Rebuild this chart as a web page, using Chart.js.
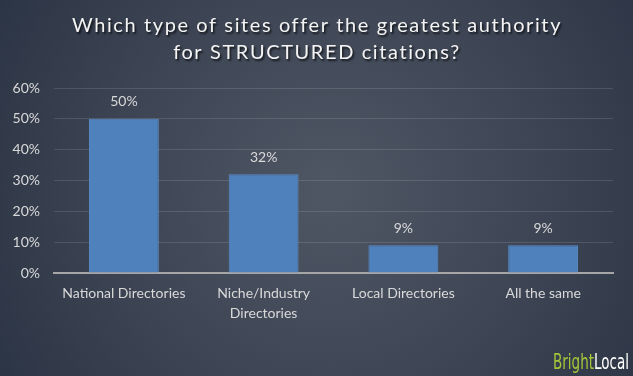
<!DOCTYPE html>
<html>
<head>
<meta charset="utf-8">
<script src="https://cdn.jsdelivr.net/npm/chart.js@4/dist/chart.umd.min.js"></script>
<style>
html,body{margin:0;padding:0;background:#2e3745;}
#wrap{width:633px;height:376px;position:relative;}
</style>
</head>
<body>
<div id="wrap"><canvas id="c" width="633" height="376"></canvas></div>
<script>
const categories = ["National Directories", ["Niche/Industry", "Directories"], "Local Directories", "All the same"];
const values = [50, 32, 9, 9];
const yTicks = [0, 10, 20, 30, 40, 50, 60];
const titleLines = ["Which type of sites offer the greatest authority", "for STRUCTURED citations?"];

const FONT = "Lato, 'Open Sans', sans-serif";

const bgPlugin = {
  id: 'bg',
  beforeDraw(chart) {
    const ctx = chart.ctx, w = chart.width, h = chart.height;
    ctx.save();
    const g = ctx.createRadialGradient(330, 190, 10, 330, 190, 420);
    g.addColorStop(0, '#4e5664');
    g.addColorStop(0.5, '#3d4554');
    g.addColorStop(1, '#283141');
    ctx.fillStyle = g;
    ctx.fillRect(0, 0, w, h);
    ctx.restore();
  },
  afterDraw(chart) {
    const ctx = chart.ctx;
    ctx.save();
    // title
    ctx.font = "20px " + FONT;
    ctx.letterSpacing = '1.6px';
    ctx.textAlign = 'center';
    ctx.textBaseline = 'middle';
    ctx.shadowColor = 'rgba(0,0,0,0.7)';
    ctx.shadowOffsetX = 1.5;
    ctx.shadowOffsetY = 1.5;
    ctx.shadowBlur = 2;
    ctx.fillStyle = '#f4f4f4';
    ctx.fillText(titleLines[0], 317, 26);
    ctx.fillText(titleLines[1], 317, 53);
    ctx.restore();
    // logo
    ctx.save();
    ctx.font = "22px 'DejaVu Sans Condensed', 'Liberation Sans', sans-serif";
    ctx.textBaseline = 'alphabetic';
    ctx.textAlign = 'left';
    const b = 'Bright', l = 'Local';
    const wb = ctx.measureText(b).width, wl = ctx.measureText(l).width;
    const targetW = 76;
    const sx = targetW / (wb + wl);
    ctx.translate(553, 369);
    ctx.scale(sx, 1);
    ctx.fillStyle = '#a4c639';
    ctx.fillText(b, 0, 0);
    ctx.fillStyle = '#ffffff';
    ctx.fillText(l, wb, 0);
    ctx.restore();
  },
  afterDatasetsDraw(chart) {
    const ctx = chart.ctx;
    const meta = chart.getDatasetMeta(0);
    ctx.save();
    ctx.font = "14px " + FONT;
    ctx.fillStyle = '#d9d9d9';
    ctx.textAlign = 'center';
    ctx.textBaseline = 'middle';
    meta.data.forEach((bar, i) => {
      ctx.fillText(values[i] + '%', bar.x, bar.y - 17);
    });
    ctx.restore();
  }
};

new Chart(document.getElementById('c'), {
  type: 'bar',
  data: {
    labels: categories,
    datasets: [{
      data: values,
      backgroundColor: '#4f81bd',
      borderColor: '#5a8cc8',
      borderWidth: 1,
      categoryPercentage: 1,
      barPercentage: 0.5
    }]
  },
  options: {
    responsive: false,
    animation: false,
    devicePixelRatio: 1,
    layout: { padding: { top: 88, right: 20, left: 0, bottom: 0 } },
    plugins: { legend: { display: false }, title: { display: false }, tooltip: { enabled: false } },
    scales: {
      y: {
        min: 0, max: 60,
        afterBuildTicks(scale) { scale.ticks = yTicks.map(v => ({ value: v })); },
        afterFit(scale) { scale.width = 54; },
        ticks: { color: '#d9d9d9', font: { size: 14, family: FONT }, padding: 14, callback: v => v + '%' },
        grid: { color: 'rgba(255,255,255,0.12)', drawTicks: false, lineWidth: 1 },
        border: { display: false }
      },
      x: {
        afterFit(scale) { scale.height = 103; },
        ticks: { color: '#d9d9d9', font: { size: 14, family: FONT, lineHeight: 1.4 }, padding: 11, maxRotation: 0, autoSkip: false },
        grid: { display: false, drawTicks: false },
        border: { color: '#a6a6a6', width: 2 }
      }
    }
  },
  plugins: [bgPlugin]
});
</script>
</body>
</html>
